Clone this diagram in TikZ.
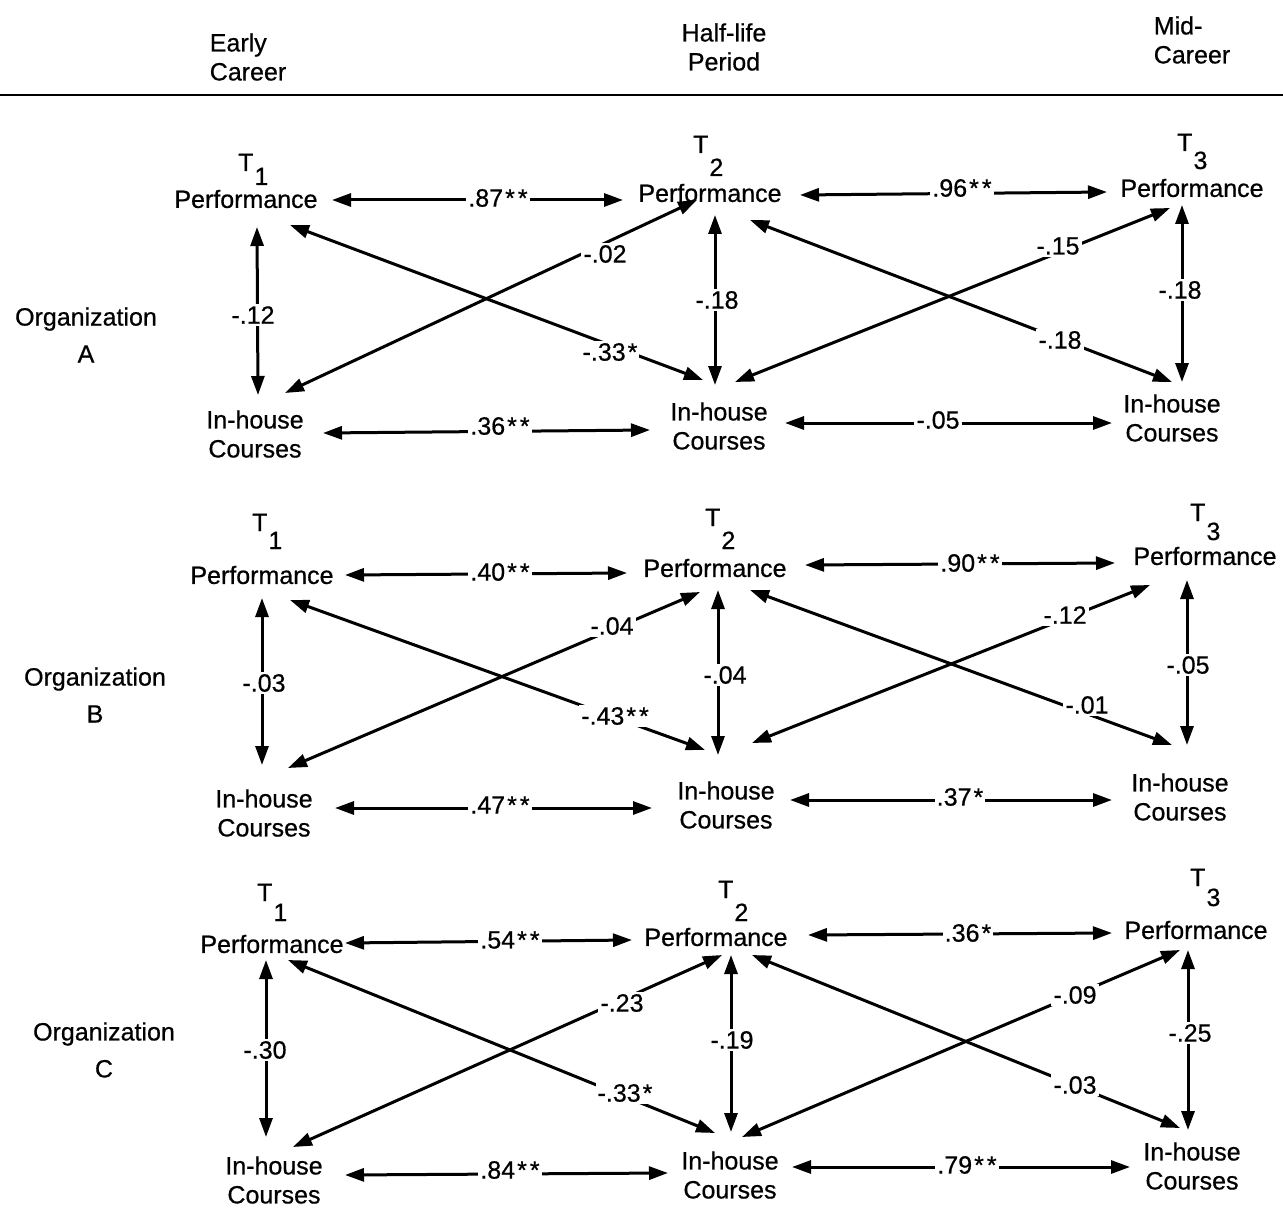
\documentclass[tikz,border=0pt]{standalone}
\usepackage{fontspec}
\setmainfont{Liberation Sans}[FakeBold=0.6]
\usetikzlibrary{arrows.meta,calc}
\tikzset{
  txt/.style={font=\fontsize{25}{29}\selectfont, inner sep=0pt, align=center},
  org/.style={font=\fontsize{25}{37}\selectfont, inner sep=0pt, align=center},
  num/.style={font=\fontsize{25}{29}\selectfont, fill=white, inner sep=2pt},
  tlab/.style={font=\fontsize{25}{29}\selectfont, inner sep=0pt, anchor=base west},
  arr/.style={line width=3pt, {Triangle[length=19pt,width=13pt]}-{Triangle[length=19pt,width=13pt]}},
}
\newcommand{\Tsub}[2]{T\kern1pt\raisebox{-#2pt}{#1}}
\newcommand{\sst}{\kern2pt*\kern3pt*}
\newcommand{\ost}{\kern2pt*}
\begin{document}
\begin{tikzpicture}[x=1pt,y=-1pt]
\useasboundingbox (0,0) rectangle (1283,1209);
\fill[white] (0,0) rectangle (1283,1209);

% header
\node[txt, align=left] (hEarly) at (248,57) {Early\\Career};
\node[txt] (hHalf) at (724,47) {Half-life\\Period};
\node[txt, align=left] (hMid) at (1192,40) {Mid-\\Career};
\draw[line width=1.5pt] (0,95) -- (1283,95);

% ================= Organization A =================
\node[org] (orgA) at (86,335) {Organization\\A};
\node[tlab] (A1T) at (238,171) {\Tsub{1}{14}};
\node[tlab] (A2T) at (693,153) {\Tsub{2}{23}};
\node[tlab] (A3T) at (1177,151) {\Tsub{3}{18}};
\node[txt] (A1P) at (246,199) {Performance};
\node[txt] (A2P) at (710,193) {Performance};
\node[txt] (A3P) at (1192,188) {Performance};
\node[txt] (A1I) at (255,434) {In-house\\Courses};
\node[txt] (A2I) at (719,426) {In-house\\Courses};
\node[txt] (A3I) at (1172,418) {In-house\\Courses};

\draw[arr] ($(A1P)+(86,1)$) -- ($(A2P)+(-87,7)$);
\draw[arr] ($(A2P)+(90,2)$) -- ($(A3P)+(-85,4)$);
\draw[arr] ($(A1P)+(11,28)$) -- ($(A1I)+(3,-39)$);
\draw[arr] ($(A2P)+(5,22)$) -- ($(A2I)+(-4,-41)$);
\draw[arr] ($(A3P)+(-10,17)$) -- ($(A3I)+(10,-36)$);
\draw[arr] ($(A1I)+(68,-1)$) -- ($(A2I)+(-69,4)$);
\draw[arr] ($(A2I)+(66,-3)$) -- ($(A3I)+(-60,5)$);
\draw[arr] ($(A1I)+(30,-41)$) -- ($(A2P)+(-13,7)$);
\draw[arr] ($(A1P)+(44,26)$) -- ($(A2I)+(-16,-46)$);
\draw[arr] ($(A2I)+(16,-44)$) -- ($(A3P)+(-22,20)$);
\draw[arr] ($(A2P)+(40,27)$) -- ($(A3I)+(0,-36)$);

\node[num] (nA1) at (498,198) {.87\sst};
\node[num] (nA2) at (962,188) {.96\sst};
\node[num] (nA3) at (253,315) {-.12};
\node[num] (nA4) at (717,300) {-.18};
\node[num] (nA5) at (1180,290) {-.18};
\node[num] (nA6) at (500,426) {.36\sst};
\node[num] (nA7) at (938,420) {-.05};
\node[num] (nA8) at (605,254) {-.02};
\node[num] (nA9) at (610,352) {-.33\ost};
\node[num] (nA10) at (1058,246) {-.15};
\node[num] (nA11) at (1060,340) {-.18};

% ================= Organization B =================
\node[org] (orgB) at (95,695) {Organization\\B};
\node[tlab] (B1T) at (252,531) {\Tsub{1}{18}};
\node[tlab] (B2T) at (705,526) {\Tsub{2}{23}};
\node[tlab] (B3T) at (1190,521) {\Tsub{3}{19}};
\node[txt] (B1P) at (262,575) {Performance};
\node[txt] (B2P) at (715,568) {Performance};
\node[txt] (B3P) at (1205,556) {Performance};
\node[txt] (B1I) at (264,813) {In-house\\Courses};
\node[txt] (B2I) at (726,805) {In-house\\Courses};
\node[txt] (B3I) at (1180,797) {In-house\\Courses};

\draw[arr] ($(B1P)+(83,0)$) -- ($(B2P)+(-88,5)$);
\draw[arr] ($(B2P)+(90,-3)$) -- ($(B3P)+(-90,7)$);
\draw[arr] ($(B1P)+(0,23)$) -- ($(B1I)+(-2,-48)$);
\draw[arr] ($(B2P)+(3,22)$) -- ($(B2I)+(-8,-50)$);
\draw[arr] ($(B3P)+(-18,24)$) -- ($(B3I)+(7,-52)$);
\draw[arr] ($(B1I)+(71,-5)$) -- ($(B2I)+(-74,3)$);
\draw[arr] ($(B2I)+(64,-5)$) -- ($(B3I)+(-68,3)$);
\draw[arr] ($(B1I)+(24,-45)$) -- ($(B2P)+(-15,24)$);
\draw[arr] ($(B1P)+(28,25)$) -- ($(B2I)+(-21,-55)$);
\draw[arr] ($(B2I)+(26,-62)$) -- ($(B3P)+(-55,29)$);
\draw[arr] ($(B2P)+(35,22)$) -- ($(B3I)+(-8,-52)$);

\node[num] (nB1) at (500,572) {.40\sst};
\node[num] (nB2) at (970,563) {.90\sst};
\node[num] (nB3) at (264,683) {-.03};
\node[num] (nB4) at (725,675) {-.04};
\node[num] (nB5) at (1188,665) {-.05};
\node[num] (nB6) at (500,805) {.47\sst};
\node[num] (nB7) at (960,797) {.37\ost};
\node[num] (nB8) at (612,626) {-.04};
\node[num] (nB9) at (615,716) {-.43\sst};
\node[num] (nB10) at (1065,615) {-.12};
\node[num] (nB11) at (1087,705) {-.01};

% ================= Organization C =================
\node[org] (orgC) at (104,1050) {Organization\\C};
\node[tlab] (C1T) at (257,901) {\Tsub{1}{20}};
\node[tlab] (C2T) at (718,898) {\Tsub{2}{23}};
\node[tlab] (C3T) at (1190,886) {\Tsub{3}{20}};
\node[txt] (C1P) at (272,944) {Performance};
\node[txt] (C2P) at (716,937) {Performance};
\node[txt] (C3P) at (1196,930) {Performance};
\node[txt] (C1I) at (274,1180) {In-house\\Courses};
\node[txt] (C2I) at (730,1175) {In-house\\Courses};
\node[txt] (C3I) at (1192,1166) {In-house\\Courses};

\draw[arr] ($(C1P)+(73,-1)$) -- ($(C2P)+(-84,3)$);
\draw[arr] ($(C2P)+(92,-2)$) -- ($(C3P)+(-84,3)$);
\draw[arr] ($(C1P)+(-6,16)$) -- ($(C1I)+(-8,-43)$);
\draw[arr] ($(C2P)+(15,18)$) -- ($(C2I)+(1,-43)$);
\draw[arr] ($(C3P)+(-8,20)$) -- ($(C3I)+(-4,-36)$);
\draw[arr] ($(C1I)+(71,-5)$) -- ($(C2I)+(-62,-2)$);
\draw[arr] ($(C2I)+(62,-8)$) -- ($(C3I)+(-62,1)$);
\draw[arr] ($(C1I)+(19,-33)$) -- ($(C2P)+(6,18)$);
\draw[arr] ($(C1P)+(16,16)$) -- ($(C2I)+(-15,-42)$);
\draw[arr] ($(C2I)+(12,-38)$) -- ($(C3P)+(-16,20)$);
\draw[arr] ($(C2P)+(36,18)$) -- ($(C3I)+(-12,-38)$);

\node[num] (nC1) at (510,940) {.54\sst};
\node[num] (nC2) at (968,933) {.36\ost};
\node[num] (nC3) at (265,1050) {-.30};
\node[num] (nC4) at (732,1040) {-.19};
\node[num] (nC5) at (1190,1033) {-.25};
\node[num] (nC6) at (510,1170) {.84\sst};
\node[num] (nC7) at (967,1165) {.79\sst};
\node[num] (nC8) at (622,1003) {-.23};
\node[num] (nC9) at (625,1093) {-.33\ost};
\node[num] (nC10) at (1075,995) {-.09};
\node[num] (nC11) at (1075,1085) {-.03};
\end{tikzpicture}
\end{document}
